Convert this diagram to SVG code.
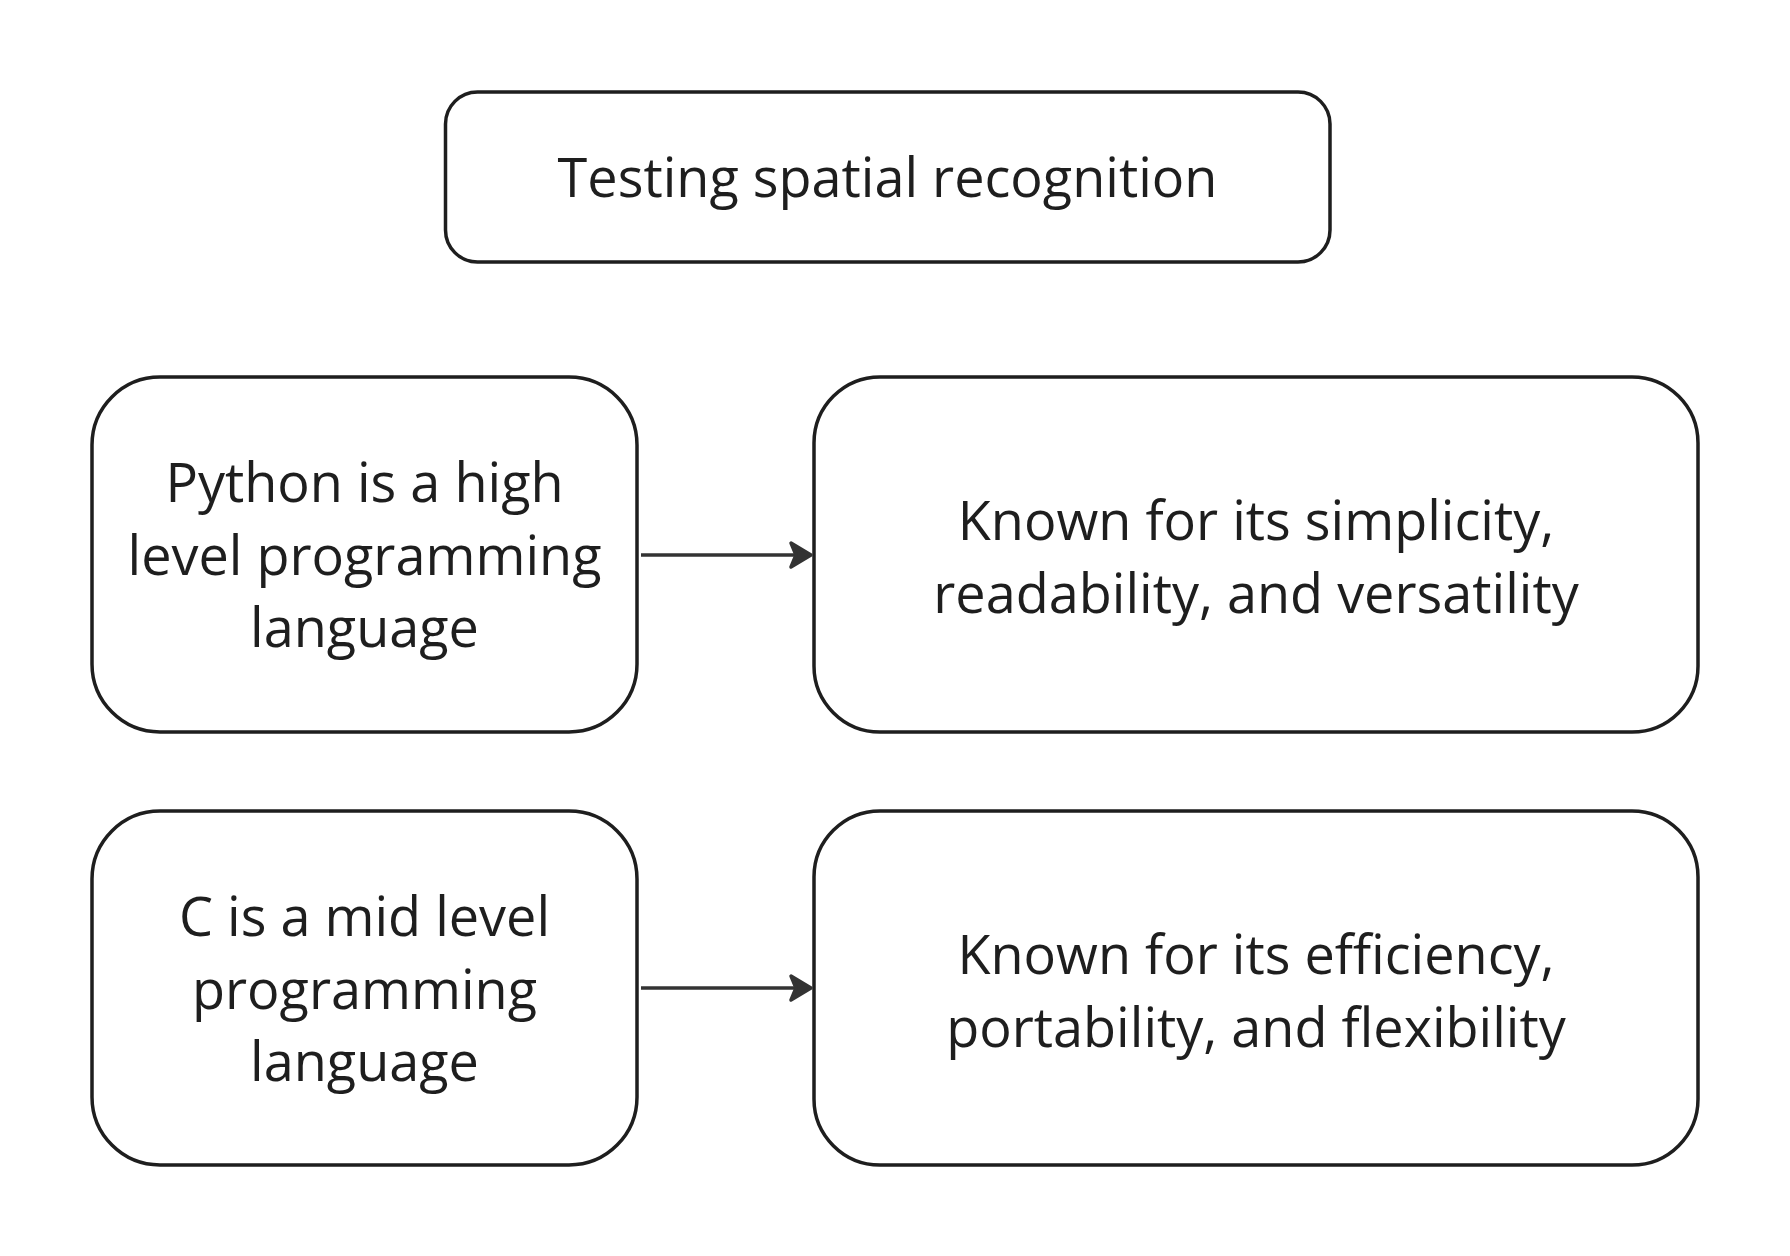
<svg xmlns="http://www.w3.org/2000/svg" width="1790" height="1256" viewBox="0 0 1790 1256">
  <style>
    .box { fill: #ffffff; stroke: #1e1e1e; stroke-width: 3.5; }
    .lbl { font-family: "Open Sans", "Noto Sans", sans-serif; font-size: 54px; fill: #1e1e1e; text-anchor: middle; }
    .edge { stroke: #333333; stroke-width: 3.5; fill: none; }
    .head { fill: #333333; stroke: #333333; stroke-width: 3.5; stroke-linejoin: round; }
  </style>
  <rect width="1790" height="1256" fill="#ffffff"/>
  <g id="title">
    <rect class="box" x="445.5" y="92" width="884.5" height="170" rx="32" ry="32"/>
    <text class="lbl" x="887.5" y="197">Testing spatial recognition</text>
  </g>
  <g id="python">
    <rect class="box" x="92" y="377" width="545" height="355" rx="68" ry="68"/>
    <text class="lbl" x="364.5" y="502">Python is a high</text>
    <text class="lbl" x="364.5" y="575">level programming</text>
    <text class="lbl" x="364.5" y="647">language</text>
  </g>
  <g id="python-desc">
    <rect class="box" x="814" y="377" width="884" height="355" rx="66" ry="66"/>
    <text class="lbl" x="1256" y="540">Known for its simplicity,</text>
    <text class="lbl" x="1256" y="613">readability, and versatility</text>
  </g>
  <g id="c">
    <rect class="box" x="92" y="811" width="545" height="354" rx="68" ry="68"/>
    <text class="lbl" x="364.5" y="936">C is a mid level</text>
    <text class="lbl" x="364.5" y="1009">programming</text>
    <text class="lbl" x="364.5" y="1081">language</text>
  </g>
  <g id="c-desc">
    <rect class="box" x="814" y="811" width="884" height="354" rx="66" ry="66"/>
    <text class="lbl" x="1256" y="974">Known for its efficiency,</text>
    <text class="lbl" x="1256" y="1047">portability, and flexibility</text>
  </g>
  <g id="connectors">
    <line class="edge" x1="641" y1="555" x2="800" y2="555"/>
    <path class="head" d="M791,543 L811,555 L791,567 L796,555 Z"/>
    <line class="edge" x1="641" y1="988" x2="800" y2="988"/>
    <path class="head" d="M791,976 L811,988 L791,1000 L796,988 Z"/>
  </g>
</svg>
